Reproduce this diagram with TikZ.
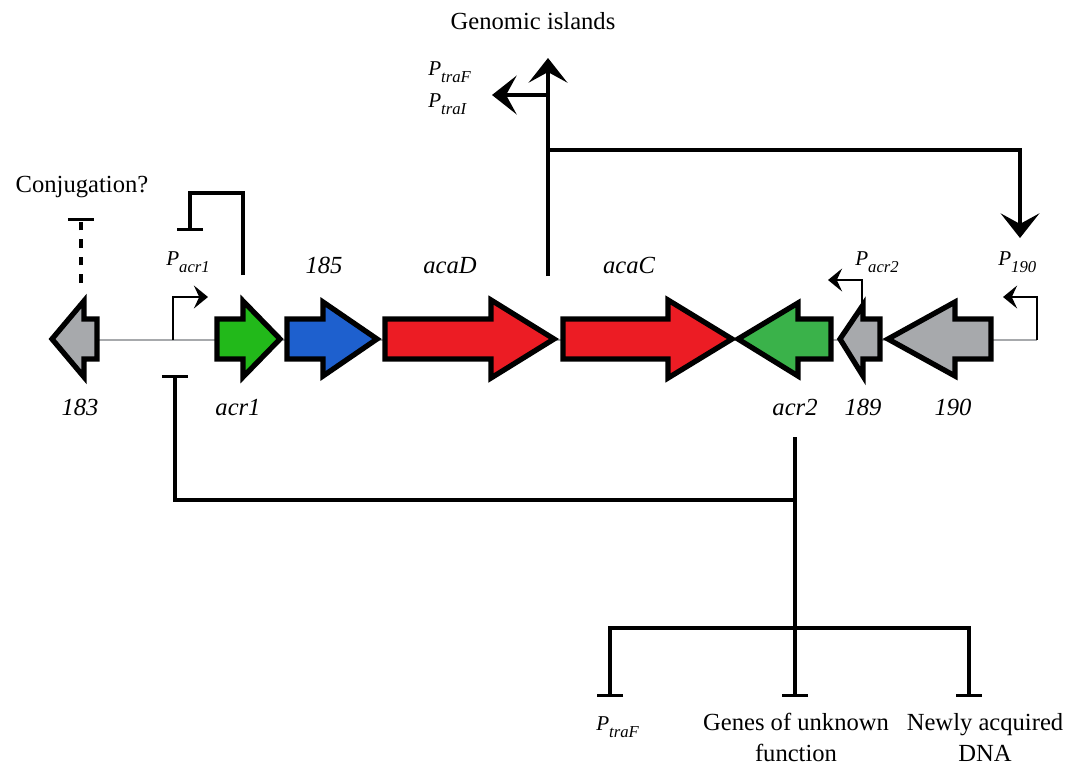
\documentclass[tikz,border=0pt]{standalone}
\usepackage{fontspec}
\setmainfont{Liberation Serif}
\usetikzlibrary{arrows.meta}
\definecolor{ggrey}{RGB}{167,169,172}
\definecolor{ggreen}{RGB}{34,185,26}
\definecolor{gblue}{RGB}{30,96,206}
\definecolor{gred}{RGB}{236,28,36}
\definecolor{gacrtwo}{RGB}{58,178,74}
\newcommand{\lsub}[1]{\raisebox{-4.5pt}{\fontsize{9.5}{10}\selectfont #1}}

\begin{document}
\begin{tikzpicture}[x=0.02cm,y=-0.02cm,
 gene/.style={draw,line width=3pt},
 lbl/.style={font=\fontsize{14}{16}\selectfont\itshape,inner sep=0},
 plbl/.style={font=\fontsize{12}{14}\selectfont\itshape,inner sep=0,anchor=base west},
 txt/.style={font=\fontsize{14}{17.5}\selectfont,inner sep=0,align=center},
 rep/.style={line width=1.9pt,-{Bar[width=15pt]}},
 prom/.style={line width=1.4pt,-{Stealth[length=8pt,width=13pt,inset=3pt]}},
 big/.style={line width=1.9pt,-{Stealth[length=14pt,width=22pt,inset=6pt]}}]
\useasboundingbox (0,0) rectangle (1078,768);
% backbone and genes
\coordinate (bbL) at (97,340);
\coordinate (bbR) at (1037,340);
\draw[ggrey,line width=1.3pt] (bbL) -- (bbR);
\draw[gene,fill=ggrey] (97,319) -- (84,319) -- (84,301) -- (52,339) -- (84,377) -- (84,359) -- (97,359) -- cycle;
\draw[gene,fill=ggreen] (217,319) -- (243,319) -- (243,301) -- (280,339) -- (243,377) -- (243,359) -- (217,359) -- cycle;
\draw[gene,fill=gblue] (287,319) -- (323,319) -- (323,302) -- (377,339) -- (323,376) -- (323,359) -- (287,359) -- cycle;
\draw[gene,fill=gred] (385,319) -- (491,319) -- (491,300) -- (554,339) -- (491,378) -- (491,359) -- (385,359) -- cycle;
\draw[gene,fill=gred] (563,319) -- (668,319) -- (668,300) -- (732,339) -- (668,378) -- (668,359) -- (563,359) -- cycle;
\draw[gene,fill=gacrtwo] (831,319) -- (798,319) -- (798,303) -- (738,339) -- (798,376) -- (798,359) -- (831,359) -- cycle;
\draw[gene,fill=ggrey] (880,319) -- (863,319) -- (863,305) -- (840,339) -- (863,376) -- (863,359) -- (880,359) -- cycle;
\draw[gene,fill=ggrey] (991,319) -- (955,319) -- (955,302) -- (888,339) -- (955,376) -- (955,359) -- (991,359) -- cycle;
% gene labels
\node[lbl,anchor=base] (g183) at (80,415) {183};
\node[lbl,anchor=base] (gacr1) at (238,415) {acr1};
\node[lbl,anchor=base] (g185) at (324,273) {185};
\node[lbl,anchor=base] (gacaD) at (450,273) {acaD};
\node[lbl,anchor=base] (gacaC) at (629,273) {acaC};
\node[lbl,anchor=base] (gacr2) at (795,415) {acr2};
\node[lbl,anchor=base] (g189) at (863,415) {189};
\node[lbl,anchor=base] (g190) at (953,415) {190};
% promoters
\node[plbl] (pacr1) at (166,265) {P\lsub{acr1}};
\node[plbl] (pacr2) at (855,265) {P\lsub{acr2}};
\node[plbl] (p190) at (998,265) {P\lsub{190}};
\node[plbl] (ptraF) at (428,75) {P\lsub{traF}};
\node[plbl] (ptraI) at (428,107) {P\lsub{traI}};
\node[plbl] (ptrafb) at (596,730) {P\lsub{traF}};
\coordinate (pr1) at (173,340); \coordinate (pr1t) at (208,297);
\coordinate (pr2) at (862,306); \coordinate (pr2t) at (828,280);
\coordinate (pr190t) at (1003,297);
\draw[prom] (pr1) |- (pr1t);
\draw[prom] (pr2) |- (pr2t);
\draw[prom] (bbR) |- (pr190t);
% other texts
\node[txt,anchor=base] (genisl) at (533,29) {Genomic islands};
\node[txt,anchor=base] (conj) at (82,192) {Conjugation?};
\node[txt,anchor=north] (unk) at (796,713) {Genes of unknown\\function};
\node[txt,anchor=north] (newdna) at (985,713) {Newly acquired\\DNA};
% regulation
\coordinate (c183) at (81,283); \coordinate (cbar) at (81,218);
\coordinate (a1) at (243,275); \coordinate (a1bar) at (190,231);
\coordinate (gi0) at (548,276); \coordinate (gi1) at (548,58);
\coordinate (gibr) at (548,95); \coordinate (traI) at (492,95);
\coordinate (gihz) at (548,150); \coordinate (p190a) at (1020,238);
\coordinate (r2) at (795,437); \coordinate (r2bar) at (175,375);
\coordinate (split) at (795,628);
\coordinate (trafbar) at (610,697); \coordinate (unkbar) at (795,697); \coordinate (newbar) at (969,697);
\draw[rep,dash pattern=on 5pt off 5pt] (c183) -- (cbar);
\draw[rep] (a1) -- ++(0,-82) -| (a1bar);
\draw[big] (gi0) -- (gi1);
\draw[big] (gibr) -- (traI);
\draw[big] (gihz) -| (p190a);
\draw[rep] (r2) -- ++(0,63) -| (r2bar);
\draw[rep] (r2) -- (unkbar);
\draw[rep] (split) -| (trafbar);
\draw[rep] (split) -| (newbar);
\end{tikzpicture}
\end{document}
